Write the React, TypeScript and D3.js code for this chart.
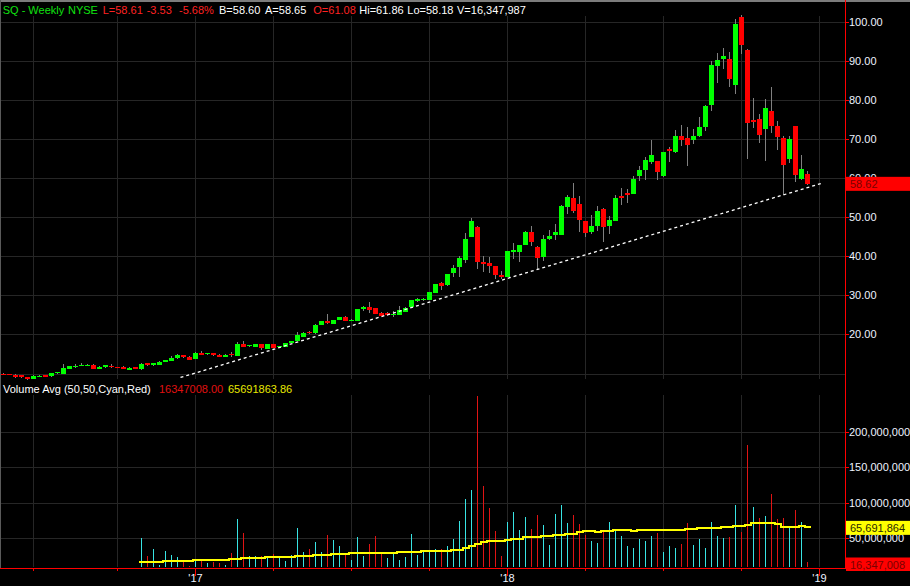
import React from "react";
import * as d3 from "d3";

// Weekly OHLC, index 0 = first visible week (mid 2016) ... 134 = week of Dec 14 2018
const openP = [
  9.95, 9.82, 9.6, 9.5, 9.14, 8.63, 9.2, 9.65, 9.22, 10.07,
  9.99, 11.18, 11.8, 11.95, 12.0, 12.29, 11.18, 11.5, 12.03, 11.65,
  11.78, 11.01, 11.69, 11.18, 12.63, 12.03, 12.2, 12.9, 13.23, 13.99,
  14.68, 14.33, 13.82, 15.36, 14.85, 15.19, 14.85, 14.33, 14.9, 14.59,
  17.57, 16.97, 16.89, 17.57, 16.29, 17.57, 16.89, 16.89, 17.83, 18.34,
  19.5, 20.5, 20.3, 22.43, 23.45, 22.68, 23.71, 24.47, 23.65, 23.53,
  26.52, 27.03, 26.77, 25.5, 25.45, 25.2, 24.98, 25.75, 27.03, 28.56,
  29.0, 28.82, 30.61, 33.16, 32.65, 35.72, 37.25, 39.04, 44.92, 47.48,
  38.53, 38.28, 37.51, 35.21, 34.7, 41.09, 41.09, 42.88, 46.2, 42.36,
  39.81, 44.41, 45.43, 45.43, 52.59, 54.89, 53.35, 49.01, 46.2, 47.73,
  52.08, 47.73, 49.01, 55.4, 56.17, 55.91, 60.51, 62.05, 64.09, 64.34,
  60.51, 67.41, 66.65, 70.74, 70.22, 69.71, 70.74, 73.03, 78.66, 88.63,
  90.42, 90.42, 83.77, 101.15, 92.72, 74.9, 75.08, 72.52, 77.12, 73.29,
  70.22, 64.86, 73.29, 59.74, 61.08,
];
const highP = [
  10.15, 9.9, 9.8, 9.65, 9.2, 9.5, 9.5, 9.7, 10.15, 10.45,
  12.4, 12.0, 12.4, 12.8, 12.35, 12.35, 11.85, 12.2, 12.37, 11.75,
  11.9, 11.6, 11.75, 12.6, 12.8, 12.75, 13.1, 13.45, 14.51, 15.02,
  14.75, 14.4, 15.45, 15.78, 15.25, 15.25, 14.9, 14.9, 15.44, 18.08,
  18.34, 17.3, 17.6, 17.6, 17.6, 17.6, 17.1, 17.9, 18.4, 20.64,
  20.5, 20.8, 22.6, 23.5, 25.16, 23.8, 24.5, 24.6, 23.9, 26.6,
  27.29, 28.31, 26.85, 25.6, 25.6, 26.0, 27.3, 27.0, 28.9, 29.2,
  29.2, 30.95, 33.0, 33.42, 35.5, 37.76, 40.06, 45.94, 49.78, 47.73,
  40.06, 39.8, 37.6, 36.23, 41.4, 43.39, 42.95, 46.54, 47.73, 42.5,
  45.43, 46.71, 48.24, 53.0, 55.65, 58.72, 55.4, 49.1, 50.54, 52.84,
  52.33, 50.29, 55.65, 57.44, 57.19, 60.51, 63.07, 65.37, 69.71, 64.4,
  66.7, 67.92, 72.27, 73.55, 73.03, 72.52, 75.59, 78.66, 89.9, 91.95,
  93.23, 92.2, 100.64, 101.66, 92.97, 80.45, 76.36, 80.19, 83.26, 74.57,
  70.73, 70.73, 73.4, 65.88, 61.86,
];
const lowP = [
  9.7, 9.5, 8.85, 8.9, 8.37, 8.55, 9.0, 9.15, 9.15, 10.0,
  9.95, 11.1, 11.3, 11.9, 11.95, 11.2, 11.1, 11.4, 11.5, 11.45,
  11.1, 10.95, 11.1, 11.0, 11.95, 11.95, 12.15, 12.85, 13.2, 13.65,
  14.0, 13.6, 13.75, 14.8, 14.8, 14.5, 14.3, 14.25, 14.33, 14.5,
  16.8, 16.9, 16.8, 16.04, 16.2, 16.55, 16.8, 16.8, 17.75, 18.3,
  19.3, 20.0, 20.2, 22.3, 22.6, 22.6, 23.6, 23.4, 23.5, 23.45,
  26.01, 25.41, 25.1, 24.6, 24.6, 24.5, 24.9, 25.6, 26.9, 28.4,
  28.5, 28.7, 30.5, 31.37, 32.5, 34.7, 34.7, 38.28, 44.8, 36.74,
  35.97, 35.72, 34.18, 34.18, 34.6, 39.3, 38.53, 42.8, 42.62, 36.74,
  38.79, 44.15, 44.15, 45.3, 50.8, 51.05, 46.2, 44.92, 45.69, 46.45,
  43.64, 45.69, 48.9, 53.1, 53.61, 55.8, 59.23, 59.49, 63.58, 59.49,
  60.26, 64.09, 66.39, 68.18, 63.07, 68.69, 70.48, 72.01, 77.12, 84.28,
  87.86, 83.26, 81.47, 91.7, 64.86, 72.78, 68.94, 64.35, 71.5, 67.16,
  55.66, 63.83, 58.98, 59.49, 58.18,
];
const closeP = [
  9.85, 9.6, 9.2, 9.0, 8.63, 9.4, 9.25, 9.22, 10.07, 10.33,
  11.44, 11.95, 11.95, 12.29, 12.29, 11.27, 11.78, 12.12, 11.78, 11.58,
  11.18, 11.52, 11.18, 12.55, 12.03, 12.63, 13.06, 13.4, 14.08, 14.68,
  14.08, 13.65, 15.36, 14.85, 15.19, 14.59, 14.33, 14.85, 14.82, 17.57,
  16.89, 17.23, 17.57, 16.63, 17.57, 16.63, 17.06, 17.83, 18.34, 19.87,
  20.4, 20.2, 22.43, 23.45, 22.94, 23.71, 24.47, 23.53, 23.75, 26.52,
  27.03, 26.26, 25.24, 24.73, 24.85, 25.3, 26.26, 26.77, 28.82, 29.07,
  29.07, 30.86, 32.91, 32.36, 35.46, 36.99, 39.55, 44.41, 49.01, 38.53,
  38.02, 37.51, 35.21, 34.7, 41.34, 41.6, 42.88, 46.2, 43.64, 39.55,
  44.41, 45.18, 46.2, 52.84, 55.14, 51.57, 49.27, 45.94, 47.73, 51.57,
  47.48, 49.27, 54.89, 55.0, 55.65, 59.74, 62.05, 64.6, 65.88, 61.53,
  66.65, 66.9, 70.74, 69.71, 68.43, 70.74, 73.03, 78.4, 88.88, 90.16,
  91.18, 85.3, 99.36, 93.99, 74.06, 74.3, 70.99, 77.89, 73.29, 70.48,
  63.32, 69.97, 60.77, 62.3, 58.61,
];

// Volume (millions of shares), starting at week index volStart
const volStart = 23;
const volumeM = [
  50.4, 25.1, 34.9, 12.4, 32.1, 26.5, 23.7, 18.0, 11.0, 19.4,
  18.0, 15.2, 16.6, 15.2, 12.4, 29.3, 77.2, 57.5, 25.1, 25.1,
  25.1, 25.1, 27.9, 22.3, 18.0, 26.5, 64.5, 30.7, 34.9, 44.8,
  30.7, 54.6, 47.6, 39.2, 27.9, 19.4, 51.8, 25.1, 42.0, 53.2,
  30.7, 22.3, 27.9, 19.4, 23.7, 56.1, 26.5, 30.7, 33.5, 34.9,
  34.9, 39.2, 49.0, 74.4, 105.4, 118.0, 250.4, 123.7, 92.7, 60.3,
  25.0, 73.0, 87.0, 61.7, 80.0, 63.1, 82.8, 68.7, 40.6, 84.2,
  96.9, 71.6, 82.8, 70.1, 54.6, 46.2, 43.4, 60.3, 73.0, 61.7,
  53.2, 39.2, 36.3, 49.0, 46.2, 53.2, 57.5, 30.0, 39.2, 36.3,
  42.0, 71.6, 40.6, 49.0, 36.3, 73.0, 53.2, 50.4, 51.8, 96.9,
  58.9, 181.4, 94.1, 78.6, 81.4, 112.4, 77.2, 78.6, 65.9, 89.9,
  73.0, 16.347,
];
// 50-week volume average as drawn (millions)
const volAvgM = [
  16.2, 16.2, 16.2, 16.2, 17.6, 17.6, 17.6, 17.6, 17.6, 19.0,
  19.0, 19.0, 19.0, 19.0, 19.0, 20.4, 20.4, 21.8, 21.8, 21.8,
  21.8, 23.2, 23.2, 23.2, 23.2, 23.2, 24.6, 24.6, 24.6, 26.1,
  26.1, 26.1, 27.5, 27.5, 27.5, 28.9, 28.9, 28.9, 28.9, 28.9,
  28.9, 28.9, 28.9, 30.3, 30.3, 30.3, 30.3, 31.7, 31.7, 31.7,
  31.7, 31.7, 32.5, 33.5, 35.9, 39.0, 42.0, 44.4, 45.8, 45.8,
  45.8, 46.7, 48.6, 48.6, 51.4, 51.4, 51.4, 52.8, 52.8, 54.2,
  54.2, 55.6, 55.6, 57.9, 59.3, 59.3, 58.5, 59.9, 59.9, 61.3,
  61.3, 61.3, 59.9, 61.3, 61.3, 61.3, 61.3, 61.3, 61.3, 61.3,
  61.3, 62.7, 62.7, 64.1, 64.1, 64.1, 64.1, 65.5, 65.5, 66.9,
  66.9, 68.3, 71.1, 71.1, 71.1, 71.1, 69.2, 65.9, 65.9, 65.9,
  67.3, 65.7,
];

const priceGrid = [10, 20, 30, 40, 50, 60, 70, 80, 90, 100];
const priceLabels = [20, 30, 40, 50, 60, 70, 80, 90, 100];
const volTicksM = [50, 100, 150, 200];
const quarterIdx = [5, 19, 32, 45, 58, 71, 84, 97, 110, 123, 136];
const yearIdx = [32, 84, 136];
const yearLabels = ["'17", "'18", "'19"];
const trendIdx = [29.5, 136.4];
const trendPrice = [8.98, 58.65];
const lastPriceLabel = "58.62";
const lastVolLabel = "16,347,008";
const avgVolLabel = "65,691,864";

const FONT = "'Liberation Sans', Arial, sans-serif";
const GREEN = "#00ff00";
const RED = "#ff0000";
const CYAN = "#38e4e4";
const VRED = "#e01414";
const GRID = "#262626";
const AX = "#ff0000";
const TXT = "#eef3ff";

export default function App() {
  const W = 910;
  const H = 586;
  const axisX = 845;
  const pTop = 16;
  const pBot = 379;
  const vTop = 395;
  const vBot = 567;

  const x = d3.scaleLinear().domain([0, 136]).range([3.5, 819.5]);
  const yP = d3.scaleLinear().domain([10, 100]).range([373.5, 21.5]);
  const yV = d3.scaleLinear().domain([0, 200]).range([573.5, 431.5]);

  const candles = openP.map((o, i) => ({
    i,
    o,
    h: highP[i],
    l: lowP[i],
    c: closeP[i],
  }));

  const vols = volumeM.map((v, j) => {
    const i = j + volStart;
    const up = closeP[i] >= closeP[i - 1];
    return { i, v, up };
  });

  const maPts: [number, number][] = volAvgM.map((m, j) => [
    x(j + volStart) - 3,
    yV(m),
  ]);
  maPts.push([x(volStart + volAvgM.length - 1) + 3, yV(volAvgM[volAvgM.length - 1])]);
  const maPath = d3.line().curve(d3.curveStepAfter)(maPts) || "";

  const trendPath =
    d3.line()(trendIdx.map((t, k) => [x(t), yP(trendPrice[k])] as [number, number])) || "";

  const header: [string, string, number][] = [
    ["SQ - Weekly", "#10e010", 2.7],
    ["NYSE", "#10e010", 68],
    ["L=58.61", "#ff2222", 102.7],
    ["-3.53", "#ff2222", 146.7],
    ["-5.68%", "#ff2222", 179],
    ["B=58.60", "#ffffff", 219],
    ["A=58.65", "#ffffff", 265],
    ["O=61.08", "#ff2222", 313.3],
    ["Hi=61.86", "#ffffff", 359.3],
    ["Lo=58.18", "#ffffff", 407.3],
    ["V=16,347,987", "#ffffff", 457],
  ];

  return (
    <svg
      width={W}
      height={H}
      style={{ position: "absolute", left: 0, top: 0, display: "block" }}
      fontFamily={FONT}
      fontSize={11}
    >
      <defs>
        <clipPath id="pclip">
          <rect x={0} y={pTop - 2} width={axisX} height={pBot - pTop + 3} />
        </clipPath>
      </defs>
      <rect x={0} y={0} width={W} height={H} fill="#000" />

      {/* grid */}
      <g shapeRendering="crispEdges" stroke={GRID} strokeWidth={1}>
        {priceGrid.map((p) => (
          <line key={"pg" + p} x1={0} x2={axisX} y1={Math.round(yP(p)) + 0.5} y2={Math.round(yP(p)) + 0.5} />
        ))}
        {volTicksM.map((v) => (
          <line key={"vg" + v} x1={0} x2={axisX} y1={Math.round(yV(v)) + 0.5} y2={Math.round(yV(v)) + 0.5} />
        ))}
        {quarterIdx.map((q) => (
          <g key={"qg" + q}>
            <line x1={x(q)} x2={x(q)} y1={pTop} y2={pBot} />
            <line x1={x(q)} x2={x(q)} y1={vTop} y2={vBot} />
          </g>
        ))}
      </g>

      {/* borders */}
      <rect x={0} y={0} width={W} height={2} fill="#7c7c7c" />
      <rect x={0} y={0} width={1} height={568} fill="#5a5a5a" />

      {/* candles */}
      <g clipPath="url(#pclip)" shapeRendering="crispEdges">
        {candles.map((d) => {
          const cx = x(d.i);
          const yo = yP(d.o);
          const yc = yP(d.c);
          const top = Math.round(Math.min(yo, yc));
          const hgt = Math.max(1, Math.round(Math.abs(yo - yc)));
          const up = d.c >= d.o;
          return (
            <g key={"c" + d.i}>
              <line x1={cx} x2={cx} y1={yP(d.h)} y2={yP(d.l)} stroke="#808080" strokeWidth={1} />
              <rect x={cx - 2.5} y={top} width={5} height={hgt} fill={up ? GREEN : RED} />
            </g>
          );
        })}
      </g>

      {/* trend line */}
      <path d={trendPath} stroke="#ffffff" strokeWidth={1.3} strokeDasharray="3,3" fill="none" />

      {/* volume */}
      <g shapeRendering="crispEdges">
        {vols.map((d) => (
          <line
            key={"v" + d.i}
            x1={x(d.i)}
            x2={x(d.i)}
            y1={Math.max(vTop, Math.min(vBot, yV(d.v)))}
            y2={vBot}
            stroke={d.up ? CYAN : VRED}
            strokeWidth={1}
          />
        ))}
      </g>
      <path d={maPath} stroke="#ffff00" strokeWidth={2} fill="none" shapeRendering="crispEdges" />

      {/* axes */}
      <g shapeRendering="crispEdges">
        <line x1={axisX + 0.5} x2={axisX + 0.5} y1={0} y2={569} stroke={AX} />
        <line x1={0} x2={axisX} y1={568.5} y2={568.5} stroke={AX} />
        {priceLabels.map((p) => (
          <line key={"pt" + p} x1={axisX} x2={axisX + 4} y1={Math.round(yP(p)) + 0.5} y2={Math.round(yP(p)) + 0.5} stroke={AX} />
        ))}
        {volTicksM.map((v) => (
          <line key={"vt" + v} x1={axisX} x2={axisX + 4} y1={Math.round(yV(v)) + 0.5} y2={Math.round(yV(v)) + 0.5} stroke={AX} />
        ))}
        {quarterIdx.map((q) => (
          <line key={"xt" + q} x1={x(q)} x2={x(q)} y1={568} y2={yearIdx.includes(q) ? 576 : 571} stroke={AX} />
        ))}
      </g>

      {/* price labels */}
      {priceLabels.map((p) => (
        <text key={"pl" + p} x={849} y={yP(p) + 4} fill={TXT}>
          {p.toFixed(2)}
        </text>
      ))}
      {volTicksM.map((v) => (
        <text key={"vl" + v} x={849} y={yV(v) + 4} fill={TXT}>
          {d3.format(",")(v * 1e6)}
        </text>
      ))}

      {/* value boxes */}
      <rect x={axisX + 1} y={yP(58.62) - 6.5} width={W - axisX} height={14} fill="#ff0000" />
      <text x={850} y={yP(58.62) + 4.5} fill="#7a0000">{lastPriceLabel}</text>
      <rect x={axisX + 1} y={yV(65.69) - 6} width={W - axisX} height={14} fill="#ffff00" />
      <text x={850} y={yV(65.69) + 5} fill="#2a2a00">{avgVolLabel}</text>
      <rect x={axisX + 1} y={557.5} width={W - axisX} height={13.5} fill="#ff0000" />
      <text x={850} y={568.5} fill="#7a0000">{lastVolLabel}</text>

      {/* x labels */}
      {yearIdx.map((q, k) => (
        <text key={"yl" + q} x={x(q)} y={582} fill={TXT} textAnchor="middle">
          {yearLabels[k]}
        </text>
      ))}

      {/* header */}
      {header.map(([t, c, hx]) => (
        <text key={t} x={hx} y={14} fill={c}>
          {t}
        </text>
      ))}

      <text x={3} y={393} fill="#ffffff">Volume Avg (50,50,Cyan,Red)</text>
      <text x={159} y={393} fill="#e01010">16347008.00</text>
      <text x={228} y={393} fill="#e8e800">65691863.86</text>
    </svg>
  );
}
